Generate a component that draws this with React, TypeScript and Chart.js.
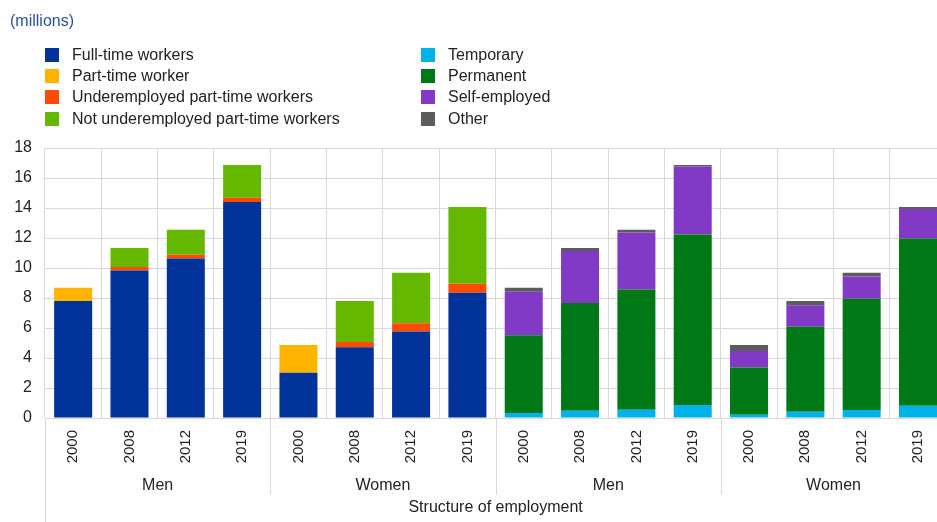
import React, { useEffect, useRef } from "react";
import { Chart, registerables } from "chart.js";

Chart.register(...registerables);

const years = ["2000", "2008", "2012", "2019"];
const groups = ["Men", "Women", "Men", "Women"];
const yTicks = [0, 2, 4, 6, 8, 10, 12, 14, 16, 18];

const fullTime = [7.8, 9.84, 10.64, 14.4, 3.02, 4.71, 5.77, 8.35, null, null, null, null, null, null, null, null];
const partTime = [0.89, null, null, null, 1.85, null, null, null, null, null, null, null, null, null, null, null];
const underemployed = [null, 0.23, 0.25, 0.29, null, 0.36, 0.54, 0.6, null, null, null, null, null, null, null, null];
const notUnderemployed = [null, 1.26, 1.66, 2.17, null, 2.73, 3.38, 5.12, null, null, null, null, null, null, null, null];
const temporary = [null, null, null, null, null, null, null, null, 0.33, 0.49, 0.55, 0.87, 0.22, 0.42, 0.53, 0.82];
const permanent = [null, null, null, null, null, null, null, null, 5.18, 7.18, 8.02, 11.37, 3.15, 5.67, 7.42, 11.15];
const selfEmployed = [null, null, null, null, null, null, null, null, 2.91, 3.46, 3.8, 4.53, 1.1, 1.42, 1.49, 1.96];
const other = [null, null, null, null, null, null, null, null, 0.27, 0.2, 0.18, 0.09, 0.4, 0.29, 0.25, 0.14];

const seriesNames = [
  "Full-time workers",
  "Part-time worker",
  "Underemployed part-time workers",
  "Not underemployed part-time workers",
  "Temporary",
  "Permanent",
  "Self-employed",
  "Other",
];
const seriesColors = ["#003299", "#ffb400", "#ff4b00", "#65b800", "#00b1ea", "#007816", "#8139c6", "#5c5c5c"];
const seriesData = [fullTime, partTime, underemployed, notUnderemployed, temporary, permanent, selfEmployed, other];

const axisTitle = "Structure of employment";
const unitLabel = "(millions)";

const FONT = "Arial, 'Liberation Sans', sans-serif";
const TEXT = "#222222";
const GRID = "#d9d9d9";

const labels: string[] = [];
groups.forEach(() => years.forEach((y) => labels.push(y)));

const groupPlugin = {
  id: "groupLabels",
  afterDraw(chart: any) {
    const ctx = chart.ctx;
    const xs = chart.scales.x;
    const area = chart.chartArea;
    const n = years.length;
    ctx.save();
    ctx.strokeStyle = GRID;
    ctx.lineWidth = 1;
    ctx.beginPath();
    ctx.moveTo(Math.round(area.left) + 0.5, area.bottom);
    ctx.lineTo(Math.round(area.left) + 0.5, chart.height);
    ctx.stroke();
    for (let g = 1; g < groups.length; g++) {
      const x = (xs.getPixelForValue(g * n - 1) + xs.getPixelForValue(g * n)) / 2;
      ctx.beginPath();
      ctx.moveTo(Math.round(x) + 0.5, area.bottom);
      ctx.lineTo(Math.round(x) + 0.5, 495);
      ctx.stroke();
    }
    ctx.fillStyle = TEXT;
    ctx.font = `16px ${FONT}`;
    ctx.textAlign = "center";
    ctx.textBaseline = "middle";
    groups.forEach((g, i) => {
      const x = (xs.getPixelForValue(i * n) + xs.getPixelForValue(i * n + n - 1)) / 2;
      ctx.fillText(g, x, 486);
    });
    ctx.fillText(axisTitle, (area.left + area.right) / 2, 507.5);
    ctx.restore();
  },
};

export default function App() {
  const ref = useRef<HTMLCanvasElement | null>(null);
  useEffect(() => {
    if (!ref.current) return;
    const chart = new Chart(ref.current, {
      type: "bar",
      data: {
        labels,
        datasets: seriesNames.map((name, i) => ({
          label: name,
          data: seriesData[i],
          backgroundColor: seriesColors[i],
          borderWidth: 0,
          barPercentage: 0.675,
          categoryPercentage: 1,
        })),
      },
      options: {
        responsive: false,
        animation: false,
        layout: { padding: { top: 148, left: 0, right: 0, bottom: 0 } },
        plugins: { legend: { display: false }, tooltip: { enabled: false }, title: { display: false } },
        scales: {
          x: {
            stacked: true,
            grid: { color: GRID, drawTicks: false, offset: true },
            border: { display: false },
            ticks: {
              color: TEXT,
              font: { family: FONT, size: 15 },
              minRotation: 90,
              maxRotation: 90,
              autoSkip: false,
              padding: 12,
            },
            afterFit: (s: any) => {
              s.height = 104;
            },
          },
          y: {
            stacked: true,
            min: 0,
            max: 18,
            afterBuildTicks: (s: any) => {
              s.ticks = yTicks.map((v) => ({ value: v }));
            },
            grid: { color: GRID, drawTicks: false },
            border: { display: false },
            ticks: { color: TEXT, font: { family: FONT, size: 16 }, padding: 13 },
            afterFit: (s: any) => {
              s.width = 45;
            },
          },
        },
      },
      plugins: [groupPlugin],
    });
    return () => chart.destroy();
  }, []);

  const legendItem = (i: number, left: number, cy: number) => (
    <div
      key={i}
      style={{
        position: "absolute",
        left,
        top: cy - 10,
        height: 20,
        display: "flex",
        alignItems: "center",
        whiteSpace: "nowrap",
      }}
    >
      <span style={{ display: "inline-block", width: 14, height: 14, background: seriesColors[i], marginRight: 13 }} />
      <span style={{ fontSize: 16, color: TEXT, fontFamily: FONT }}>{seriesNames[i]}</span>
    </div>
  );
  const rows = [54.5, 75.8, 97.2, 118.5];

  return (
    <div style={{ position: "absolute", left: 0, top: 0, width: 937, height: 522, overflow: "hidden", background: "#fff" }}>
      <canvas ref={ref} width={948} height={522} style={{ position: "absolute", left: 0, top: 0, width: 948, height: 522 }} />
      <div style={{ position: "absolute", left: 10, top: 11, fontSize: 16, color: "#2d4fa0", fontFamily: FONT, lineHeight: "20px" }}>
        {unitLabel}
      </div>
      {[0, 1, 2, 3].map((i) => legendItem(i, 45, rows[i]))}
      {[4, 5, 6, 7].map((i) => legendItem(i, 421, rows[i - 4]))}
    </div>
  );
}
